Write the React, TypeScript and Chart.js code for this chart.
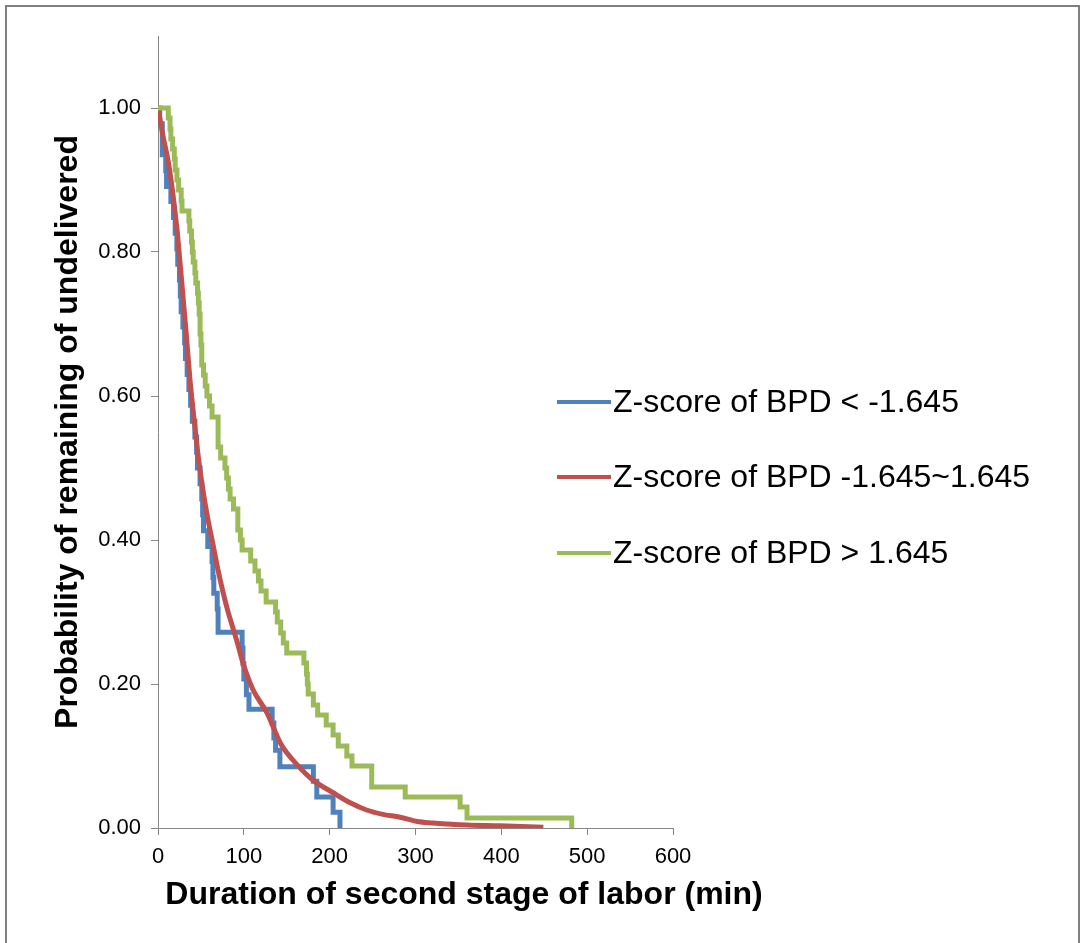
import { useEffect, useRef } from 'react';
import { Chart, registerables } from 'chart.js';

Chart.register(...registerables);

const seriesLabels = ['Z-score of BPD < -1.645', 'Z-score of BPD -1.645~1.645', 'Z-score of BPD > 1.645'];
const seriesColors = ['#4F81BD', '#C0504D', '#9BBB59'];

const xTitle = 'Duration of second stage of labor (min)';
const yTitle = 'Probability of remaining of undelivered';

const xTickValues = [0, 100, 200, 300, 400, 500, 600];
const yTickValues = [0, 0.2, 0.4, 0.6, 0.8, 1.0];

// Z-score < -1.645 (Kaplan-Meier steps)
const lowTimes = [0, 2, 5, 9, 10, 15, 18, 20, 22, 23, 25, 26, 27, 29, 31, 32, 34, 36, 38, 40, 43, 45, 46, 49, 51, 52, 53, 58, 63, 64, 65, 69, 70, 98, 99, 100, 103, 106, 133, 135, 137, 142, 181, 185, 204, 212];
const lowSurvival = [1.0, 0.978, 0.935, 0.913, 0.891, 0.87, 0.848, 0.826, 0.804, 0.783, 0.761, 0.739, 0.717, 0.696, 0.674, 0.652, 0.63, 0.609, 0.587, 0.565, 0.543, 0.522, 0.5, 0.478, 0.457, 0.435, 0.413, 0.391, 0.37, 0.348, 0.326, 0.304, 0.272, 0.25, 0.228, 0.207, 0.185, 0.165, 0.146, 0.125, 0.108, 0.085, 0.065, 0.043, 0.022, 0.0];

// Z-score -1.645 ~ 1.645 (dense curve)
const midTimes = [0, 3, 6, 12, 17.5, 22, 25.6, 29, 32.5, 37.3, 42, 47, 52.4, 58.3, 64, 70, 75.7, 81, 87, 93, 99, 110.7, 127, 143, 162, 180, 204, 224, 243, 262, 282, 302, 320, 360, 398, 449];
const midSurvival = [1.0, 0.98, 0.96, 0.925, 0.879, 0.833, 0.786, 0.74, 0.692, 0.622, 0.568, 0.515, 0.469, 0.428, 0.394, 0.358, 0.328, 0.303, 0.279, 0.255, 0.229, 0.192, 0.16, 0.117, 0.088, 0.067, 0.049, 0.035, 0.025, 0.019, 0.015, 0.009, 0.007, 0.004, 0.003, 0.001];

// Z-score > 1.645 (Kaplan-Meier steps)
const highTimes = [0, 12, 14, 15, 17, 19, 20, 22, 24, 27, 28, 36, 37, 39, 40, 41, 43, 44, 46, 47, 48, 49, 50, 51, 53, 55, 57, 60, 63, 70, 73, 78, 80, 82, 84, 88, 93, 96, 98, 108, 113, 117, 120, 126, 137, 139, 143, 146, 150, 170, 173, 174, 175, 181, 186, 196, 204, 210, 220, 226, 249, 288, 352, 360, 482];
const highSurvival = [1.0, 0.986, 0.971, 0.957, 0.943, 0.929, 0.914, 0.9, 0.886, 0.871, 0.857, 0.843, 0.829, 0.814, 0.8, 0.786, 0.771, 0.757, 0.743, 0.729, 0.714, 0.686, 0.671, 0.643, 0.629, 0.614, 0.6, 0.586, 0.571, 0.529, 0.514, 0.5, 0.486, 0.471, 0.457, 0.443, 0.414, 0.4, 0.386, 0.371, 0.357, 0.343, 0.329, 0.314, 0.3, 0.286, 0.271, 0.257, 0.243, 0.229, 0.214, 0.2, 0.186, 0.171, 0.157, 0.143, 0.129, 0.114, 0.1, 0.086, 0.057, 0.043, 0.029, 0.014, 0.0];

const FONT = '"Liberation Sans", Arial, Helvetica, sans-serif';
const AXIS_GRAY = '#868686';

const toPoints = (xs: number[], ys: number[]) => xs.map((x, i) => ({ x, y: ys[i] }));

const decorPlugin = {
  id: 'decor',
  beforeDraw(chart: any) {
    const { ctx, width, height } = chart;
    ctx.save();
    ctx.fillStyle = '#ffffff';
    ctx.fillRect(0, 0, width, height);
    ctx.strokeStyle = '#7f7f7f';
    ctx.lineWidth = 2;
    ctx.strokeRect(6, 6, 1073, 1000);
    ctx.restore();
  },
  afterDraw(chart: any) {
    const { ctx } = chart;
    ctx.save();
    ctx.fillStyle = '#000';
    ctx.font = `bold 32px ${FONT}`;
    ctx.textAlign = 'center';
    ctx.textBaseline = 'middle';
    ctx.fillText(xTitle, 464, 895);
    const rows = [402, 477, 553];
    chart.data.datasets.forEach((ds: any, i: number) => {
      const y = rows[i];
      ctx.strokeStyle = ds.borderColor;
      ctx.lineWidth = 4;
      ctx.beginPath();
      ctx.moveTo(557, y);
      ctx.lineTo(611, y);
      ctx.stroke();
      ctx.fillStyle = '#000';
      ctx.font = `32px ${FONT}`;
      ctx.textAlign = 'left';
      ctx.textBaseline = 'middle';
      ctx.fillText(ds.label, 613, y + 1);
    });
    ctx.restore();
  },
};

export default function App() {
  const ref = useRef<HTMLCanvasElement | null>(null);

  useEffect(() => {
    document.body.style.margin = '0';
    document.body.style.overflow = 'hidden';
    if (!ref.current) return;
    const datasets = [
      { label: seriesLabels[0], data: toPoints(lowTimes, lowSurvival), borderColor: seriesColors[0], stepped: 'before' as const, order: 3 },
      { label: seriesLabels[1], data: toPoints(midTimes, midSurvival), borderColor: seriesColors[1], cubicInterpolationMode: 'monotone' as const, order: 2 },
      { label: seriesLabels[2], data: toPoints(highTimes, highSurvival), borderColor: seriesColors[2], stepped: 'before' as const, order: 1 },
    ].map((d) => ({ ...d, borderWidth: 5, pointRadius: 0, fill: false, backgroundColor: d.borderColor }));

    const chart = new Chart(ref.current, {
      type: 'line',
      data: { datasets },
      plugins: [decorPlugin],
      options: {
        responsive: false,
        animation: false,
        events: [],
        layout: { padding: { left: 0, top: 36, right: 409, bottom: 0 } },
        plugins: { legend: { display: false }, tooltip: { enabled: false }, title: { display: false } },
        scales: {
          x: {
            type: 'linear',
            min: xTickValues[0],
            max: xTickValues[xTickValues.length - 1],
            afterBuildTicks: (scale: any) => {
              scale.ticks = xTickValues.map((v) => ({ value: v }));
            },
            afterFit: (scale: any) => {
              scale.height = 115;
            },
            ticks: {
              color: '#000',
              font: { family: FONT, size: 22 },
              padding: 9,
              maxRotation: 0,
              callback: (v: any) => String(v),
            },
            grid: { drawOnChartArea: false, drawTicks: true, tickLength: 7, color: AXIS_GRAY },
            border: { display: true, color: AXIS_GRAY, width: 1 },
          },
          y: {
            type: 'linear',
            min: 0,
            max: 1.1,
            afterBuildTicks: (scale: any) => {
              scale.ticks = yTickValues.map((v) => ({ value: v }));
            },
            afterFit: (scale: any) => {
              scale.width = 158;
            },
            ticks: {
              color: '#000',
              font: { family: FONT, size: 22 },
              padding: 10,
              callback: (v: any) => Number(v).toFixed(2),
            },
            grid: { drawOnChartArea: false, drawTicks: true, tickLength: 7, color: AXIS_GRAY },
            border: { display: true, color: AXIS_GRAY, width: 1 },
            title: {
              display: true,
              text: yTitle,
              color: '#000',
              font: { family: FONT, size: 32, weight: 'bold' },
              padding: { top: 49, bottom: 0 },
            },
          },
        },
      },
    } as any);
    return () => chart.destroy();
  }, []);

  return <canvas ref={ref} width={1082} height={943} style={{ display: 'block' }} />;
}
